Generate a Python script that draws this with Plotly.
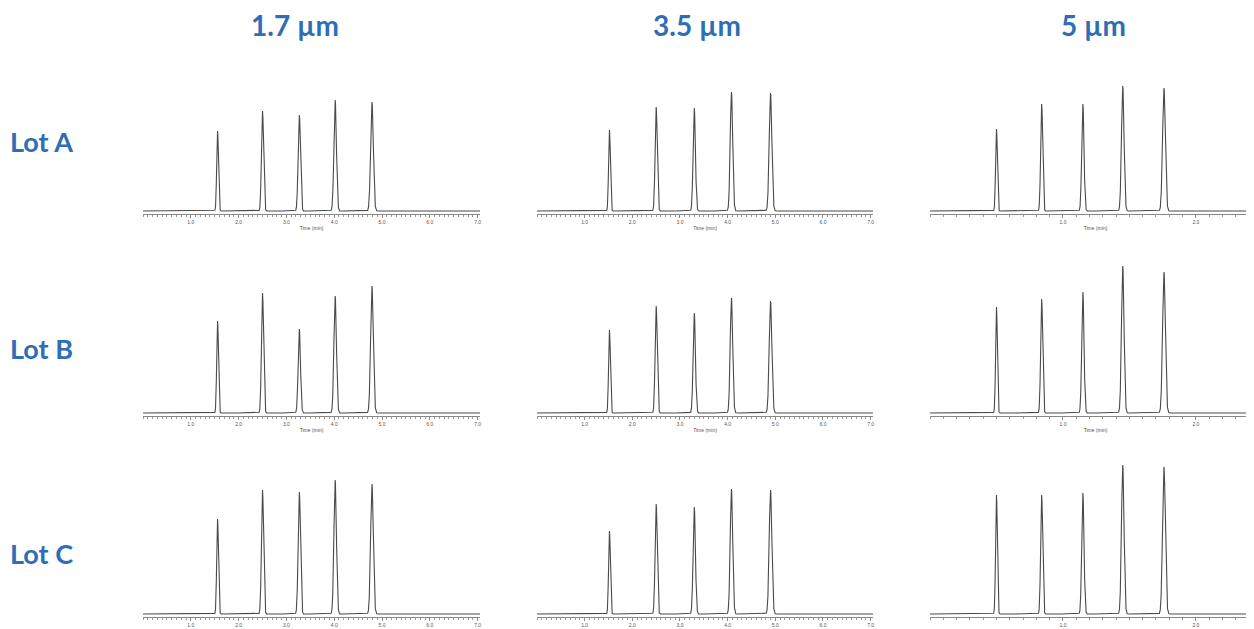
import numpy as np
import plotly.graph_objects as go

W, H = 1254, 629
OFF = 8  # page body margin compensation (px)

col_titles = ["1.7 µm", "3.5 µm", "5 µm"]
row_titles = ["Lot A", "Lot B", "Lot C"]

# retention times (min) per column
rt = {
    "1.7 µm": [1.56, 2.50, 3.27, 4.02, 4.79],
    "3.5 µm": [1.52, 2.50, 3.30, 4.08, 4.90],
    "5 µm":   [0.50, 0.84, 1.15, 1.45, 1.76],
}
# peak widths (sigma, min) per column
sig = {
    "1.7 µm": [0.018, 0.022, 0.024, 0.026, 0.028],
    "3.5 µm": [0.018, 0.022, 0.024, 0.026, 0.028],
    "5 µm":   [0.0065, 0.0075, 0.0085, 0.0095, 0.0105],
}
# peak heights (response units) per lot/column
heights = {
    ("Lot A", "1.7 µm"): [80, 100, 96, 111, 109],
    ("Lot A", "3.5 µm"): [81, 104, 103, 119, 118],
    ("Lot A", "5 µm"):   [82, 107, 107, 125, 123],
    ("Lot B", "1.7 µm"): [92, 120, 84, 117, 127],
    ("Lot B", "3.5 µm"): [83, 107, 100, 115, 112],
    ("Lot B", "5 µm"):   [106, 114, 121, 147, 141],
    ("Lot C", "1.7 µm"): [95, 124, 122, 134, 130],
    ("Lot C", "3.5 µm"): [83, 110, 107, 125, 124],
    ("Lot C", "5 µm"):   [119, 119, 121, 149, 147],
}
x_ranges = {"1.7 µm": [0.0, 7.05], "3.5 µm": [0.0, 7.05], "5 µm": [0.0, 2.49]}
minor_dtick = {"1.7 µm": 0.1, "3.5 µm": 0.1, "5 µm": 0.1}
x_tickvals = {"1.7 µm": [1, 2, 3, 4, 5, 6, 7], "3.5 µm": [1, 2, 3, 4, 5, 6, 7], "5 µm": [1, 2]}
x_ticktext = {"1.7 µm": ["1.0", "2.0", "3.0", "4.0", "5.0", "6.0", "7.0"],
              "3.5 µm": ["1.0", "2.0", "3.0", "4.0", "5.0", "6.0", "7.0"],
              "5 µm": ["1.0", "2.0"]}

# layout in screen pixels
col_px = [(143, 480), (537, 873), (930, 1261)]
row_px = [(60, 214), (262, 416), (463, 617)]


def fx(p):
    return (p - OFF) / W


def fy(p):
    return 1 - (p - OFF) / H


fig = go.Figure()
blue = "#2E6EB5"

k = 0
for r, lot in enumerate(row_titles):
    for c, col in enumerate(col_titles):
        k += 1
        xa = "x" if k == 1 else f"x{k}"
        ya = "y" if k == 1 else f"y{k}"
        x0, x1 = x_ranges[col]
        t = np.linspace(x0, x1, 5000)
        y = np.zeros_like(t)
        for m, s, h in zip(rt[col], sig[col], heights[(lot, col)]):
            y += h * np.exp(-0.5 * ((t - m) / s) ** 2)
        fig.add_trace(go.Scatter(x=t, y=y, mode="lines", xaxis=xa, yaxis=ya,
                                 line=dict(color="#4a4a4a", width=1.1), showlegend=False,
                                 hoverinfo="skip"))
        px0, px1 = col_px[c]
        py0, py1 = row_px[r]
        fig.layout[("xaxis" if k == 1 else f"xaxis{k}")] = dict(
            domain=[max(0, fx(px0)), min(1, fx(px1))], anchor=ya, range=[x0, x1],
            showgrid=False, zeroline=False, showline=True, linecolor="#888888", linewidth=1,
            ticks="outside", ticklen=3, tickcolor="#888888", tickwidth=1,
            tickvals=x_tickvals[col], ticktext=x_ticktext[col],
            tickfont=dict(size=5, color="#555555", family="Arial"),
            minor=dict(dtick=minor_dtick[col], tick0=0, ticks="outside", ticklen=2,
                       tickcolor="#999999", tickwidth=1, showgrid=False),
            title=dict(text="Time (min)", font=dict(size=5, color="#555555", family="Arial"),
                       standoff=2),
        )
        fig.layout[("yaxis" if k == 1 else f"yaxis{k}")] = dict(
            domain=[fy(py1), fy(py0)], anchor=xa, range=[-3, 151],
            visible=False, fixedrange=True,
        )

col_centers = [295, 697, 1093]
for c, col in enumerate(col_titles):
    fig.add_annotation(x=fx(col_centers[c]), y=fy(25), xref="paper", yref="paper",
                       text=f"<b>{col}</b>", showarrow=False, xanchor="center", yanchor="middle",
                       font=dict(size=28, color=blue, family="Lato"))
row_centers = [141, 348, 553]
for r, lot in enumerate(row_titles):
    fig.add_annotation(x=fx(8), y=fy(row_centers[r]), xref="paper", yref="paper",
                       text=f"<b>{lot}</b>", showarrow=False, xanchor="left", yanchor="middle",
                       font=dict(size=27, color=blue, family="Lato"))

fig.update_layout(width=W, height=H, margin=dict(l=0, r=0, t=0, b=0),
                  paper_bgcolor="white", plot_bgcolor="white")

fig.write_html("out.html")
